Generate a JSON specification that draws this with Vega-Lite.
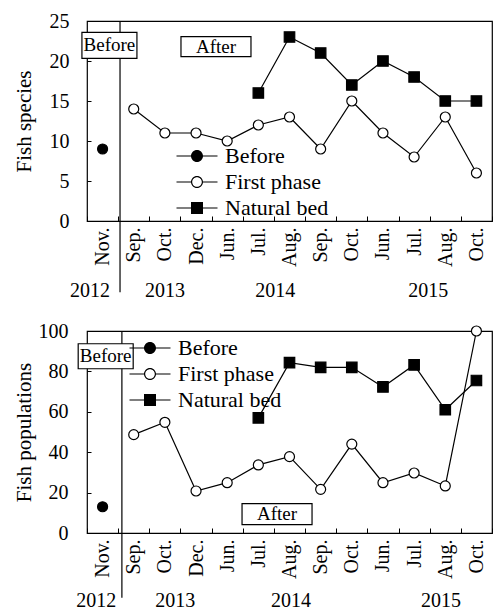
{
  "$schema": "https://vega.github.io/schema/vega-lite/v6.json",
  "padding": {"left": 12, "top": 10, "right": 0, "bottom": 0},
  "background": "white",
  "bounds": "flush",
  "spacing": 110,
  "config": {
    "font": "Liberation Serif",
    "view": {"stroke": "black", "strokeWidth": 1.2},
    "axis": {"labelFont": "Liberation Serif", "titleFont": "Liberation Serif", "labelColor": "black", "titleColor": "black", "tickColor": "black", "grid": false, "domain": false},
    "legend": {"labelFont": "Liberation Serif", "labelColor": "black", "labelFontSize": 22, "title": null, "padding": 0, "symbolSize": 400, "symbolStrokeWidth": 0, "symbolFillColor": "black", "symbolOpacity": 1, "symbolOffset": 10, "labelOffset": 17, "rowPadding": 4},
    "text": {"font": "Liberation Serif"}
  },
  "datasets": {
    "species": [
      {"month": "Nov. 2012", "series": "Before", "value": 9},
      {"month": "Sep. 2013", "series": "First phase", "value": 14},
      {"month": "Oct. 2013", "series": "First phase", "value": 11},
      {"month": "Dec. 2013", "series": "First phase", "value": 11},
      {"month": "Jun. 2014", "series": "First phase", "value": 10},
      {"month": "Jul. 2014", "series": "First phase", "value": 12},
      {"month": "Aug. 2014", "series": "First phase", "value": 13},
      {"month": "Sep. 2014", "series": "First phase", "value": 9},
      {"month": "Oct. 2014", "series": "First phase", "value": 15},
      {"month": "Jun. 2015", "series": "First phase", "value": 11},
      {"month": "Jul. 2015", "series": "First phase", "value": 8},
      {"month": "Aug. 2015", "series": "First phase", "value": 13},
      {"month": "Oct. 2015", "series": "First phase", "value": 6},
      {"month": "Jul. 2014", "series": "Natural bed", "value": 16},
      {"month": "Aug. 2014", "series": "Natural bed", "value": 23},
      {"month": "Sep. 2014", "series": "Natural bed", "value": 21},
      {"month": "Oct. 2014", "series": "Natural bed", "value": 17},
      {"month": "Jun. 2015", "series": "Natural bed", "value": 20},
      {"month": "Jul. 2015", "series": "Natural bed", "value": 18},
      {"month": "Aug. 2015", "series": "Natural bed", "value": 15},
      {"month": "Oct. 2015", "series": "Natural bed", "value": 15}
    ],
    "pops": [
      {"month": "Nov. 2012", "series": "Before", "value": 13},
      {"month": "Sep. 2013", "series": "First phase", "value": 48.7},
      {"month": "Oct. 2013", "series": "First phase", "value": 54.8},
      {"month": "Dec. 2013", "series": "First phase", "value": 20.8},
      {"month": "Jun. 2014", "series": "First phase", "value": 24.9},
      {"month": "Jul. 2014", "series": "First phase", "value": 33.7},
      {"month": "Aug. 2014", "series": "First phase", "value": 37.8},
      {"month": "Sep. 2014", "series": "First phase", "value": 21.6},
      {"month": "Oct. 2014", "series": "First phase", "value": 44},
      {"month": "Jun. 2015", "series": "First phase", "value": 24.9},
      {"month": "Jul. 2015", "series": "First phase", "value": 29.7},
      {"month": "Aug. 2015", "series": "First phase", "value": 23.3},
      {"month": "Oct. 2015", "series": "First phase", "value": 100},
      {"month": "Jul. 2014", "series": "Natural bed", "value": 57},
      {"month": "Aug. 2014", "series": "Natural bed", "value": 84.3},
      {"month": "Sep. 2014", "series": "Natural bed", "value": 82},
      {"month": "Oct. 2014", "series": "Natural bed", "value": 82},
      {"month": "Jun. 2015", "series": "Natural bed", "value": 72.3},
      {"month": "Jul. 2015", "series": "Natural bed", "value": 83.2},
      {"month": "Aug. 2015", "series": "Natural bed", "value": 61},
      {"month": "Oct. 2015", "series": "Natural bed", "value": 75.5}
    ]
  },
  "resolve": {"scale": {"shape": "independent"}, "legend": {"shape": "independent"}},
  "vconcat": [
    {
      "width": 405,
      "height": 200,
      "encoding": {
        "y": {"field": "value", "type": "quantitative", "scale": {"domain": [0, 25], "nice": false, "zero": false}, "axis": {"title": "Fish species", "titleFontSize": 21, "titleFontWeight": "normal", "titlePadding": 15, "labelFontSize": 20, "values": [0, 5, 10, 15, 20, 25], "tickSize": -4, "labelPadding": 22}}
      },
      "resolve": {"scale": {"x": "independent"}},
      "layer": [
        {
          "data": {"name": "species"},
          "encoding": {
            "x": {"field": "month", "type": "nominal", "sort": ["Nov. 2012", "Sep. 2013", "Oct. 2013", "Dec. 2013", "Jun. 2014", "Jul. 2014", "Aug. 2014", "Sep. 2014", "Oct. 2014", "Jun. 2015", "Jul. 2015", "Aug. 2015", "Oct. 2015"], "scale": {"type": "band", "paddingInner": 0, "paddingOuter": 0}, "axis": {"title": null, "labelAngle": 270, "labelFontSize": 20, "tickBand": "extent", "tickSize": -5, "labelPadding": 11, "labelExpr": "datum.value ? split(datum.value, ' ')[0] : ''"}}
          },
          "layer": [
            {
              "transform": [{"filter": "datum.series !== 'Before'"}],
              "mark": {"type": "line", "color": "black", "strokeWidth": 1.2},
              "encoding": {"detail": {"field": "series"}}
            },
            {
              "transform": [{"filter": "datum.series === 'Before'"}],
              "mark": {"type": "point", "shape": "circle", "filled": true, "fill": "black", "opacity": 1, "stroke": "black", "strokeWidth": 1.2, "size": 100}
            },
            {
              "transform": [{"filter": "datum.series === 'First phase'"}],
              "mark": {"type": "point", "shape": "circle", "filled": true, "fill": "white", "opacity": 1, "stroke": "black", "strokeWidth": 1.2, "size": 100}
            },
            {
              "transform": [{"filter": "datum.series === 'Natural bed'"}],
              "mark": {"type": "point", "shape": "square", "filled": true, "fill": "black", "opacity": 1, "stroke": "black", "strokeWidth": 1.2, "size": 110}
            },
            {
              "mark": {"type": "point", "filled": true, "fill": "black", "opacity": 0, "strokeWidth": 0, "size": 100},
              "encoding": {
                "shape": {"field": "series", "type": "nominal", "scale": {"domain": ["Before", "First phase", "Natural bed"], "range": [
                  "M-2.05,-0.06H2.05V0.06H-2.05Z M0.6,0A0.6,0.6,0,1,1,-0.6,0A0.6,0.6,0,1,1,0.6,0Z",
                  "M-2.05,-0.06H-0.55V0.06H-2.05Z M0.55,-0.06H2.05V0.06H0.55Z M0.6,0A0.6,0.6,0,1,1,-0.6,0A0.6,0.6,0,1,1,0.6,0Z M0.48,0A0.48,0.48,0,1,0,-0.48,0A0.48,0.48,0,1,0,0.48,0Z",
                  "M-2.05,-0.06H2.05V0.06H-2.05Z M-0.6,-0.6H0.6V0.6H-0.6Z"]},
                  "legend": {"orient": "none", "legendX": 89, "legendY": 124}}
              }
            }
          ]
        },
        {
          "encoding": {"x": {"field": "pos", "type": "quantitative", "scale": {"domain": [0, 13], "nice": false, "zero": false}, "axis": null}},
          "layer": [
            {
              "data": {"values": [{"pos": 1.06, "value": 25, "value2": -8.9}]},
              "mark": {"type": "rule", "color": "black", "strokeWidth": 1.2},
              "encoding": {"y2": {"field": "value2"}}
            },
            {
              "data": {"values": [{"pos": 0.72, "value": 21.96, "label": "Before"}]},
              "mark": {"type": "point", "shape": "M-1,-0.473H1V0.473H-1Z", "size": 3025, "filled": true, "fill": "white", "stroke": "black", "strokeWidth": 1.2, "opacity": 1}
            },
            {
              "data": {"values": [{"pos": 4.14, "value": 21.8, "label": "After"}]},
              "mark": {"type": "point", "shape": "M-1,-0.286H1V0.286H-1Z", "size": 4900, "filled": true, "fill": "white", "stroke": "black", "strokeWidth": 1.2, "opacity": 1}
            },
            {
              "data": {"values": [{"pos": 0.72, "value": 21.96, "label": "Before"}, {"pos": 4.14, "value": 21.8, "label": "After"}]},
              "mark": {"type": "text", "fontSize": 19, "color": "black", "baseline": "middle", "align": "center"},
              "encoding": {"text": {"field": "label"}}
            },
            {
              "data": {"values": [{"pos": 0.1, "value": -8.7, "label": "2012"}, {"pos": 2.5, "value": -8.7, "label": "2013"}, {"pos": 6.04, "value": -8.7, "label": "2014"}, {"pos": 10.95, "value": -8.7, "label": "2015"}]},
              "mark": {"type": "text", "fontSize": 20, "color": "black", "baseline": "middle", "align": "center"},
              "encoding": {"text": {"field": "label"}}
            }
          ]
        }
      ]
    },
    {
      "width": 405,
      "height": 202,
      "encoding": {
        "y": {"field": "value", "type": "quantitative", "scale": {"domain": [0, 100], "nice": false, "zero": false}, "axis": {"title": "Fish populations", "titleFontSize": 21, "titleFontWeight": "normal", "titlePadding": 4, "labelFontSize": 20, "values": [0, 20, 40, 60, 80, 100], "tickSize": -4, "labelPadding": 23}}
      },
      "resolve": {"scale": {"x": "independent"}},
      "layer": [
        {
          "data": {"name": "pops"},
          "encoding": {
            "x": {"field": "month", "type": "nominal", "sort": ["Nov. 2012", "Sep. 2013", "Oct. 2013", "Dec. 2013", "Jun. 2014", "Jul. 2014", "Aug. 2014", "Sep. 2014", "Oct. 2014", "Jun. 2015", "Jul. 2015", "Aug. 2015", "Oct. 2015"], "scale": {"type": "band", "paddingInner": 0, "paddingOuter": 0}, "axis": {"title": null, "labelAngle": 270, "labelFontSize": 20, "tickBand": "extent", "tickSize": -5, "labelPadding": 11, "labelExpr": "datum.value ? split(datum.value, ' ')[0] : ''"}}
          },
          "layer": [
            {
              "transform": [{"filter": "datum.series !== 'Before'"}],
              "mark": {"type": "line", "color": "black", "strokeWidth": 1.2},
              "encoding": {"detail": {"field": "series"}}
            },
            {
              "transform": [{"filter": "datum.series === 'Before'"}],
              "mark": {"type": "point", "shape": "circle", "filled": true, "fill": "black", "opacity": 1, "stroke": "black", "strokeWidth": 1.2, "size": 100}
            },
            {
              "transform": [{"filter": "datum.series === 'First phase'"}],
              "mark": {"type": "point", "shape": "circle", "filled": true, "fill": "white", "opacity": 1, "stroke": "black", "strokeWidth": 1.2, "size": 100}
            },
            {
              "transform": [{"filter": "datum.series === 'Natural bed'"}],
              "mark": {"type": "point", "shape": "square", "filled": true, "fill": "black", "opacity": 1, "stroke": "black", "strokeWidth": 1.2, "size": 110}
            },
            {
              "mark": {"type": "point", "filled": true, "fill": "black", "opacity": 0, "strokeWidth": 0, "size": 100},
              "encoding": {
                "shape": {"field": "series", "type": "nominal", "scale": {"domain": ["Before", "First phase", "Natural bed"], "range": [
                  "M-2.05,-0.06H2.05V0.06H-2.05Z M0.6,0A0.6,0.6,0,1,1,-0.6,0A0.6,0.6,0,1,1,0.6,0Z",
                  "M-2.05,-0.06H-0.55V0.06H-2.05Z M0.55,-0.06H2.05V0.06H0.55Z M0.6,0A0.6,0.6,0,1,1,-0.6,0A0.6,0.6,0,1,1,0.6,0Z M0.48,0A0.48,0.48,0,1,0,-0.48,0A0.48,0.48,0,1,0,0.48,0Z",
                  "M-2.05,-0.06H2.05V0.06H-2.05Z M-0.6,-0.6H0.6V0.6H-0.6Z"]},
                  "legend": {"orient": "none", "legendX": 42, "legendY": 6}}
              }
            }
          ]
        },
        {
          "encoding": {"x": {"field": "pos", "type": "quantitative", "scale": {"domain": [0, 13], "nice": false, "zero": false}, "axis": null}},
          "layer": [
            {
              "data": {"values": [{"pos": 1.12, "value": 100, "value2": -32}]},
              "mark": {"type": "rule", "color": "black", "strokeWidth": 1.2},
              "encoding": {"y2": {"field": "value2"}}
            },
            {
              "data": {"values": [{"pos": 0.6, "value": 87.5, "label": "Before"}]},
              "mark": {"type": "point", "shape": "M-1,-0.4545H1V0.4545H-1Z", "size": 3025, "filled": true, "fill": "white", "stroke": "black", "strokeWidth": 1.2, "opacity": 1}
            },
            {
              "data": {"values": [{"pos": 6.1, "value": 9.3, "label": "After"}]},
              "mark": {"type": "point", "shape": "M-1,-0.3H1V0.3H-1Z", "size": 4900, "filled": true, "fill": "white", "stroke": "black", "strokeWidth": 1.2, "opacity": 1}
            },
            {
              "data": {"values": [{"pos": 0.6, "value": 87.5, "label": "Before"}, {"pos": 6.1, "value": 9.3, "label": "After"}]},
              "mark": {"type": "text", "fontSize": 19, "color": "black", "baseline": "middle", "align": "center"},
              "encoding": {"text": {"field": "label"}}
            },
            {
              "data": {"values": [{"pos": 0.3, "value": -33.6, "label": "2012"}, {"pos": 2.83, "value": -33.6, "label": "2013"}, {"pos": 6.55, "value": -33.6, "label": "2014"}, {"pos": 11.36, "value": -33.6, "label": "2015"}]},
              "mark": {"type": "text", "fontSize": 20, "color": "black", "baseline": "middle", "align": "center"},
              "encoding": {"text": {"field": "label"}}
            }
          ]
        }
      ]
    }
  ]
}
